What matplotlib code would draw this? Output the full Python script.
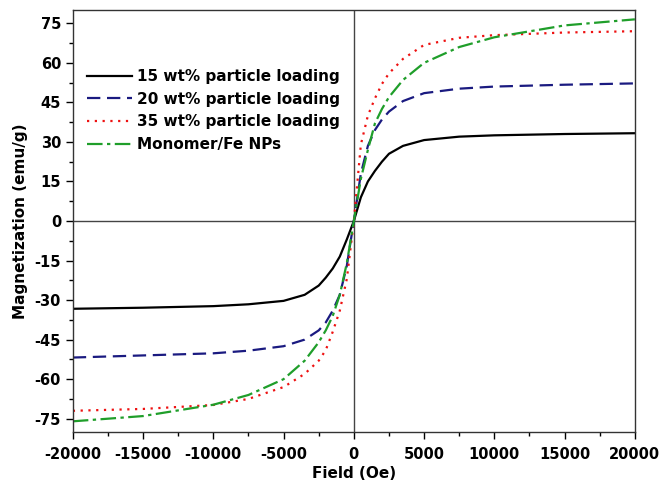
import numpy as np
import matplotlib.pyplot as plt
from matplotlib.ticker import MultipleLocator

plt.rcParams['font.family'] = ['DejaVu Sans']
plt.rcParams['font.weight'] = 'bold'
plt.rcParams['axes.unicode_minus'] = False

# Field values (Oe)
field = [-20000, -15000, -10000, -7500, -5000, -3500, -2500, -2000, -1500, -1000,
         -500, 0, 500, 1000, 1500, 2000, 2500, 3500, 5000, 7500, 10000, 15000, 20000]

# Magnetization (emu/g) for each sample
m_15 = [-33.3, -32.9, -32.3, -31.6, -30.3, -28.0, -24.5, -21.5, -18.0, -13.5,
        -7.0, 0.0, 9.0, 15.0, 19.0, 22.5, 25.5, 28.5, 30.7, 32.0, 32.5, 33.0, 33.3]
m_20 = [-51.8, -51.0, -50.2, -49.2, -47.5, -45.0, -41.5, -38.5, -34.0, -28.0,
        -17.0, 0.0, 18.0, 28.5, 34.5, 38.5, 41.5, 45.5, 48.5, 50.2, 51.0, 51.7, 52.2]
m_35 = [-72.0, -71.3, -69.8, -67.5, -63.0, -58.0, -53.0, -49.0, -42.0, -34.0,
        -22.0, 0.0, 29.0, 40.0, 46.5, 52.0, 56.0, 61.5, 66.8, 69.5, 70.5, 71.5, 72.0]
m_mono = [-76.0, -74.0, -69.7, -66.0, -60.0, -53.0, -46.0, -41.5, -36.0, -28.0,
          -16.0, 0.0, 16.0, 27.0, 37.0, 42.5, 47.0, 53.5, 60.0, 66.0, 69.7, 74.2, 76.5]

labels = ['15 wt% particle loading', '20 wt% particle loading',
          '35 wt% particle loading', 'Monomer/Fe NPs']

fig = plt.figure(figsize=(6.62, 4.82), dpi=100)
ax = fig.add_axes([0.110, 0.104, 0.849, 0.875])

ax.axhline(0, color='#444444', lw=1.0, zorder=1)
ax.axvline(0, color='#444444', lw=1.0, zorder=1)

ax.plot(field, m_15, color='black', lw=1.6, label=labels[0])
ax.plot(field, m_20, color='#1a1a80', lw=1.6, ls=(0, (6, 3)), label=labels[1])
ax.plot(field, m_35, color='#ee1111', lw=1.6, ls=(0, (1, 2.5)), label=labels[2])
ax.plot(field, m_mono, color='#1f9e2a', lw=1.6, ls=(0, (7, 2, 1.5, 2)), label=labels[3])

ax.set_xlim(-20000, 20000)
ax.set_ylim(-80, 80)
ax.xaxis.set_major_locator(MultipleLocator(5000))
ax.xaxis.set_minor_locator(MultipleLocator(2500))
ax.yaxis.set_major_locator(MultipleLocator(15))
ax.yaxis.set_minor_locator(MultipleLocator(7.5))
ax.tick_params(which='major', direction='out', length=5, width=1, labelsize=10.5)
ax.tick_params(axis='x', which='major', pad=6)
ax.tick_params(which='minor', direction='out', length=3, width=1)
for s in ax.spines.values():
    s.set_linewidth(1.0)
    s.set_color('#333333')

ax.set_xlabel('Field (Oe)', fontsize=11, fontweight='bold', labelpad=3)
ax.set_ylabel('Magnetization (emu/g)', fontsize=11, fontweight='bold', labelpad=5)

leg = ax.legend(loc='upper left', bbox_to_anchor=(0.0, 0.893), frameon=False,
                fontsize=11, handlelength=3.0, handletextpad=0.3, labelspacing=0.5)

fig.savefig('out.png', dpi=100)
